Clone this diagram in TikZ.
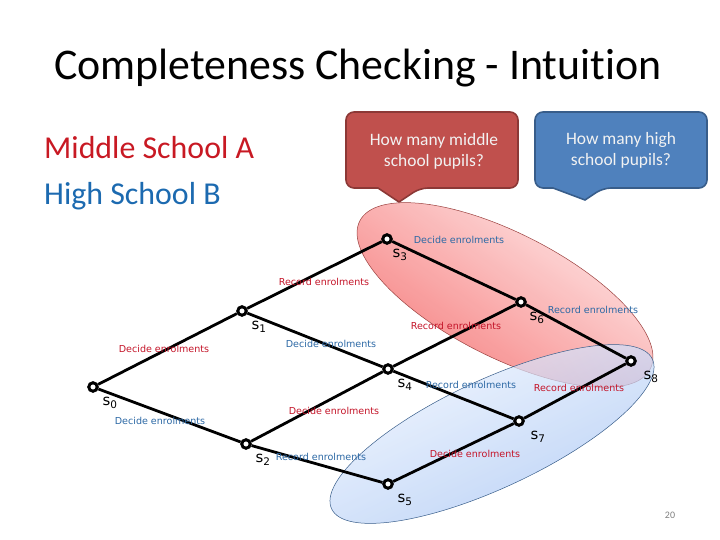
\documentclass[tikz,border=0pt]{standalone}
\usepackage{fontspec}
\setmainfont[Ligatures=NoCommon]{Carlito}
\newfontfamily\lblfont{DejaVu Sans}
\usetikzlibrary{calc, positioning}

\definecolor{schoolred}{RGB}{200,25,35}
\definecolor{schoolblue}{RGB}{28,106,176}
\definecolor{lblred}{RGB}{196,22,42}
\definecolor{lblblue}{RGB}{45,105,165}
\definecolor{callred}{RGB}{192,80,77}
\definecolor{callredline}{RGB}{140,56,54}
\definecolor{callblue}{RGB}{79,129,189}
\definecolor{callblueline}{RGB}{56,93,138}

\begin{document}
\begin{tikzpicture}[x=1bp, y=1bp,
  state/.style={circle, draw=black, fill=white, line width=3pt, inner sep=0pt, minimum size=8.5bp},
  trans/.style={line width=2.8pt},
  redlbl/.style={font=\lblfont\fontsize{9.6}{11}\selectfont, text=lblred, inner sep=0pt},
  bluelbl/.style={font=\lblfont\fontsize{9.6}{11}\selectfont, text=lblblue, inner sep=0pt},
  slbl/.style={font=\lblfont\fontsize{15}{15}\selectfont, inner sep=0pt},
  calltext/.style={text=white!95!black, align=center, font=\fontsize{17.5}{21}\selectfont}]
\useasboundingbox (0,0) rectangle (720,540);

% title and schools
\node[font=\fontsize{44}{50}\selectfont] (title) at (358,472) {Completeness Checking - Intuition};
\node[anchor=base west, inner sep=0pt, text=schoolred, font=\fontsize{32}{38}\selectfont] (msa) at (44,381) {Middle School A};
\node[anchor=base west, inner sep=0pt, text=schoolblue, font=\fontsize{32}{38}\selectfont] (hsb) at (44,335) {High School B};

% callouts
\draw[draw=callredline, fill=callred, line width=1.6pt, rounded corners=8bp]
  (346,428) -- (518,428) -- (518,352) -- (420,352) [sharp corners] -- (399,338) -- (378,352) [rounded corners=8bp] -- (346,352) -- cycle;
\node[calltext] (qmiddle) at (434,389) {How many middle\\school pupils?};

\draw[draw=callblueline, fill=callblue, line width=1.6pt, rounded corners=8bp]
  (535,428) -- (707,428) -- (707,352) -- (603,352) [sharp corners] -- (585,340) -- (553,352) [rounded corners=8bp] -- (535,352) -- cycle;
\node[calltext] (qhigh) at (621,390) {How many high\\school pupils?};

% the two sets of states
\shade[top color={rgb,255:red,255;green,232;blue,232}, bottom color={rgb,255:red,244;green,110;blue,110},
  shading angle=-35, fill opacity=0.9] (505,245) ellipse [x radius=163bp, y radius=62bp, rotate=-27];
\draw[draw=callred!80!black, line width=0.5pt] (505,245) ellipse [x radius=163bp, y radius=62bp, rotate=-27];

\shade[top color={rgb,255:red,236;green,243;blue,255}, bottom color={rgb,255:red,160;green,192;blue,242},
  shading angle=25, fill opacity=0.7] (492,106) ellipse [x radius=177bp, y radius=54bp, rotate=25];
\draw[draw=callblueline, line width=0.5pt] (492,106) ellipse [x radius=177bp, y radius=54bp, rotate=25];

% states
\node[state] (s0) at (93,153) {};
\node[state] (s1) at (242,229) {};
\node[state] (s2) at (246,96) {};
\node[state] (s3) at (387,301) {};
\node[state] (s4) at (388,171) {};
\node[state] (s5) at (388,56) {};
\node[state] (s6) at (521,238) {};
\node[state] (s7) at (519,119) {};
\node[state] (s8) at (631,179) {};

% transitions
\draw[trans] (s0) -- (s1);
\draw[trans] (s0) -- (s2);
\draw[trans] (s1) -- (s3);
\draw[trans] (s1) -- (s4);
\draw[trans] (s2) -- (s4);
\draw[trans] (s2) -- (s5);
\draw[trans] (s3) -- (s6);
\draw[trans] (s4) -- (s6);
\draw[trans] (s4) -- (s7);
\draw[trans] (s5) -- (s7);
\draw[trans] (s6) -- (s8);
\draw[trans] (s7) -- (s8);

% state names
\node[slbl] (n0) at ($(s0)+(17,-16)$) {s\textsubscript{0}};
\node[slbl] (n1) at ($(s1)+(17,-16)$) {s\textsubscript{1}};
\node[slbl] (n2) at ($(s2)+(17,-16)$) {s\textsubscript{2}};
\node[slbl] (n3) at ($(s3)+(13,-16)$) {s\textsubscript{3}};
\node[slbl] (n4) at ($(s4)+(17,-16)$) {s\textsubscript{4}};
\node[slbl] (n5) at ($(s5)+(17,-16)$) {s\textsubscript{5}};
\node[slbl] (n6) at ($(s6)+(16,-16)$) {s\textsubscript{6}};
\node[slbl] (n7) at ($(s7)+(19,-16)$) {s\textsubscript{7}};
\node[slbl] (n8) at ($(s8)+(20,-16)$) {s\textsubscript{8}};

% transition labels
\node[redlbl] (l01) at (164,191) {Decide enrolments};
\node[bluelbl] (l02) at (160,119) {Decide enrolments};
\node[redlbl] (l13) at (324,258) {Record enrolments};
\node[bluelbl] (l14) at (331,196) {Decide enrolments};
\node[redlbl] (l24) at (334,129) {Decide enrolments};
\node[bluelbl] (l25) at (321,83) {Record enrolments};
\node[bluelbl] (l36) at (459,300) {Decide enrolments};
\node[redlbl] (l46) at (456,214) {Record enrolments};
\node[bluelbl] (l47) at (471,155) {Record enrolments};
\node[redlbl] (l57) at (475,86) {Decide enrolments};
\node[bluelbl] (l68) at (593,230) {Record enrolments};
\node[redlbl] (l78) at (579,152) {Record enrolments};

\node[text=gray, font=\fontsize{10}{12}\selectfont] (page) at (670,25) {20};
\end{tikzpicture}
\end{document}
